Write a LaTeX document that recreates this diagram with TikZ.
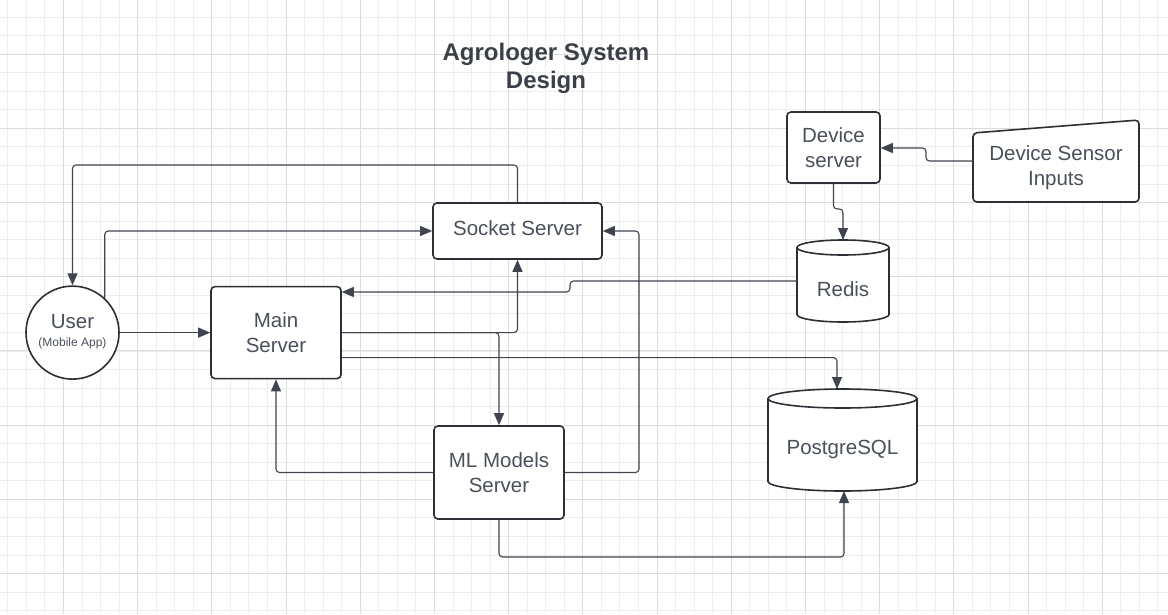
\documentclass[tikz,border=0pt]{standalone}
\usepackage{fontspec}
\setmainfont{Liberation Sans}
\usetikzlibrary{arrows.meta,calc}
\definecolor{gridminor}{HTML}{EDEDED}
\definecolor{gridmajor}{HTML}{DCDCDC}
\definecolor{boxc}{HTML}{2B2F36}
\definecolor{txtc}{HTML}{4A505B}
\definecolor{linec}{HTML}{3F444E}
\definecolor{titlec}{HTML}{3A3F48}
\begin{document}
\begin{tikzpicture}[x=1pt,y=-1pt,
  box/.style={draw=boxc, line width=1.6pt, rounded corners=4pt, fill=white, text=txtc,
    font=\fontsize{20.5}{25}\selectfont, align=center, inner sep=0pt},
  lbl/.style={text=txtc, font=\fontsize{20.5}{25}\selectfont, align=center, inner sep=0pt},
  conn/.style={draw=linec, line width=1.1pt, rounded corners=3.5pt},
  arr/.style={conn, -{Triangle[length=12pt,width=10pt]}},
  dbline/.style={draw=boxc, line width=1.6pt, fill=white},
  ghost/.style={inner sep=0pt, outer sep=0pt}]
\useasboundingbox (0,0) rectangle (1168,614);
\fill[white] (0,0) rectangle (1168,614);
% grid
\foreach \i in {0,...,62} \draw[gridminor, line width=0.8pt] ({7.7+\i*18.55},0) -- ({7.7+\i*18.55},614);
\foreach \i in {0,...,33} \draw[gridminor, line width=0.8pt] (0,{17+\i*18.55}) -- (1168,{17+\i*18.55});
\foreach \i in {0,...,15} \draw[gridmajor, line width=0.9pt] ({63.35+\i*74.2},0) -- ({63.35+\i*74.2},614);
\foreach \i in {0,...,8} \draw[gridmajor, line width=0.9pt] (0,{54.1+\i*74.2}) -- (1168,{54.1+\i*74.2});

% title
\node[text=titlec, font=\fontsize{24}{28}\bfseries, align=center] (title) at (546,68) {Agrologer System\\Design};

% user
\node[draw=boxc, line width=1.6pt, circle, minimum size=93pt, fill=white, inner sep=0pt] (user) at (72.5,332.6) {};
\node[lbl] (usertxt) at (72.5,322) {User};
\node[text=txtc, font=\fontsize{12}{14}\selectfont, inner sep=0pt] (userapp) at (72.5,343) {(Mobile App)};

% boxes
\node[box, minimum width=130pt, minimum height=92pt] (main) at (276,332.6) {Main\\Server};
\node[box, minimum width=169pt, minimum height=56pt] (sock) at (517.5,231) {};
\node[lbl] (socktxt) at (517.5,228.5) {Socket Server};
\node[box, minimum width=130pt, minimum height=93pt] (ml) at (499,472.5) {ML Models\\Server};
\node[box, minimum width=93pt, minimum height=71pt] (dev) at (833.5,147.5) {Device\\server};

% device sensor inputs (manual input shape)
\draw[draw=boxc, line width=1.6pt, fill=white, rounded corners=4pt]
  (973,133) -- (1139,120) -- (1139,202) -- (973,202) -- cycle;
\node[ghost, minimum width=166pt, minimum height=70pt] (sens) at (1056,166) {};
\node[lbl] (senstxt) at (1056,168) {Device Sensor\\Inputs};

% redis cylinder
\node[ghost, minimum width=92pt, minimum height=82pt] (redis) at (843,281) {};
\path[dbline] (797,247.5) -- (797,314.5)
  arc[start angle=180, end angle=360, x radius=46pt, y radius=7.5pt]
  -- (889,247.5) arc[start angle=0, end angle=180, x radius=46pt, y radius=7.5pt] -- cycle;
\draw[draw=boxc, line width=1.6pt] (797,247.5) arc[start angle=180, end angle=360, x radius=46pt, y radius=7.5pt];
\node[lbl] (redistxt) at (843,289) {Redis};

% postgres cylinder
\node[ghost, minimum width=149pt, minimum height=102pt] (pg) at (842.5,440) {};
\path[dbline] (768,398.5) -- (768,481.5)
  arc[start angle=180, end angle=360, x radius=74.5pt, y radius=9.5pt]
  -- (917,398.5) arc[start angle=0, end angle=180, x radius=74.5pt, y radius=9.5pt] -- cycle;
\draw[draw=boxc, line width=1.6pt] (768,398.5) arc[start angle=180, end angle=360, x radius=74.5pt, y radius=9.5pt];
\node[lbl] (pgtxt) at (842.5,449) {PostgreSQL};

% helper coordinates
\coordinate (pgTop) at ($(pg.north)+(-5.5,0)$);
\coordinate (pgBot) at ($(pg.south)+(1.5,0)$);
\coordinate (mainLow) at ($(main.east)+(0,25)$);
\coordinate (sensOut) at ($(sens.west)+(0,-5)$);

% connectors
\draw[arr] (sock.north) -- (sock.north |- 0,165) -- (user.north |- 0,165) -- (user.north);
\draw[arr] (user.47) -- (user.47 |- sock.west) -- (sock.west);
\draw[arr] (user.east) -- (main.west);
\draw[arr] (redis.west) -- (570,281) -- (570,292) -- (main.east |- 0,292);
\draw[arr] (main.east) -- (sock.south |- main.east) -- (sock.south);
\draw[arr] (main.east) -- (ml.north |- main.east) -- (ml.north);
\draw[arr] (mainLow) -- (pgTop |- mainLow) -- (pgTop);
\draw[arr] (ml.west) -- (main.south |- ml.west) -- (main.south);
\draw[arr] (ml.east) -- (639,472.5) -- (639,231) -- (sock.east);
\draw[arr] (ml.south) -- (ml.south |- 0,557) -- (pgBot |- 0,557) -- (pgBot);
\draw[arr] (sensOut) -- (926,161) -- (926,148) -- (dev.east |- 0,148);
\draw[arr] (dev.south) -- (dev.south |- 0,209) -- (redis.north |- 0,209) -- (redis.north);
\end{tikzpicture}
\end{document}
